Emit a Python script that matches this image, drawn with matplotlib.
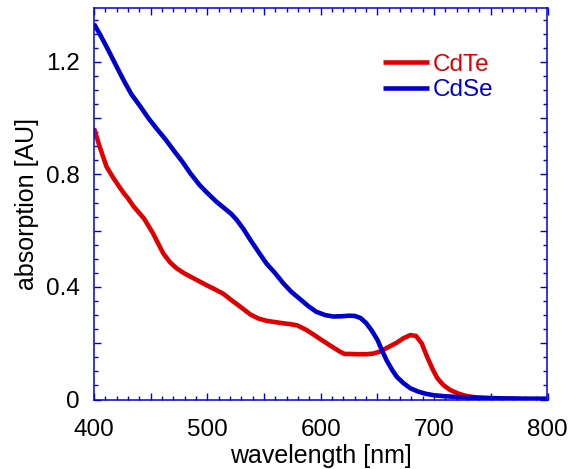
import matplotlib
matplotlib.use("Agg")
import matplotlib.pyplot as plt
from matplotlib.ticker import MultipleLocator, FuncFormatter

# ---- data ----
cdte_wl = [400, 405, 411, 417, 422, 426, 430, 435, 444, 452, 461, 467, 473, 479,
           485, 492, 499, 506, 514, 521, 529, 538, 545, 552, 560, 567, 573, 579,
           587, 594, 601, 611, 617, 621, 626, 632, 640, 646, 652, 659, 667, 673,
           679, 684, 689, 694, 699, 703, 708, 714, 722, 729, 738, 747, 760, 780, 800]
cdte_abs = [0.964, 0.899, 0.828, 0.788, 0.758, 0.735, 0.715, 0.686, 0.644, 0.591,
            0.520, 0.488, 0.466, 0.450, 0.437, 0.422, 0.407, 0.393, 0.376, 0.354,
            0.330, 0.302, 0.288, 0.280, 0.275, 0.271, 0.268, 0.264, 0.248, 0.230,
            0.211, 0.185, 0.170, 0.162, 0.162, 0.161, 0.161, 0.163, 0.170, 0.185,
            0.202, 0.218, 0.229, 0.226, 0.200, 0.150, 0.105, 0.075, 0.052, 0.034,
            0.020, 0.012, 0.007, 0.005, 0.003, 0.001, 0.0]

cdse_wl = [400, 405, 410, 414, 420, 426, 433, 441, 448, 455, 463, 470, 478, 485,
           493, 499, 508, 515, 521, 526, 532, 538, 545, 552, 560, 567, 574, 582,
           589, 596, 604, 611, 619, 625, 630, 635, 640, 645, 650, 654, 658, 663,
           667, 673, 679, 686, 693, 700, 708, 716, 725, 740, 760, 780, 800]
cdse_abs = [1.335, 1.300, 1.262, 1.231, 1.183, 1.136, 1.085, 1.041, 1.000, 0.964,
            0.925, 0.887, 0.845, 0.804, 0.763, 0.738, 0.703, 0.680, 0.660, 0.638,
            0.605, 0.567, 0.525, 0.484, 0.448, 0.413, 0.383, 0.356, 0.332, 0.312,
            0.300, 0.295, 0.296, 0.298, 0.297, 0.290, 0.272, 0.245, 0.212, 0.175,
            0.140, 0.105, 0.081, 0.058, 0.040, 0.028, 0.020, 0.015, 0.012, 0.010,
            0.008, 0.006, 0.004, 0.003, 0.003]

series_labels = ["CdTe", "CdSe"]
x_label = "wavelength [nm]"
y_label = "absorption [AU]"

RED = "#e00000"
BLUE = "#0000cc"
AXBLUE = "#0000dd"

plt.rcParams['font.family'] = ['Liberation Sans', 'DejaVu Sans']

fig = plt.figure(figsize=(5.71, 4.69), dpi=100)
ax = fig.add_axes([94 / 571, 69.5 / 469, 453.5 / 571, 391 / 469])

ax.plot(cdte_wl, cdte_abs, color=RED, lw=3.3, label=series_labels[0],
        solid_joinstyle='round', solid_capstyle='butt')
ax.plot(cdse_wl, cdse_abs, color=BLUE, lw=3.3, label=series_labels[1],
        solid_joinstyle='round', solid_capstyle='butt')

ax.set_xlim(400, 800)
ax.set_ylim(0, 1.39)

ax.xaxis.set_major_locator(MultipleLocator(50))
ax.xaxis.set_minor_locator(MultipleLocator(10))
ax.yaxis.set_major_locator(MultipleLocator(0.2))
ax.yaxis.set_minor_locator(MultipleLocator(0.05))

def xfmt(v, pos):
    return f"{int(round(v))}" if int(round(v)) % 100 == 0 else ""

def yfmt(v, pos):
    k = int(round(v / 0.2))
    if k % 2 != 0:
        return ""
    if k == 0:
        return "0"
    return f"{v:.1f}"

ax.xaxis.set_major_formatter(FuncFormatter(xfmt))
ax.yaxis.set_major_formatter(FuncFormatter(yfmt))

for sp in ax.spines.values():
    sp.set_color(AXBLUE)
    sp.set_linewidth(1.1)

ax.tick_params(which='both', direction='in', top=True, right=True,
               color=AXBLUE, width=1.0, labelsize=17.5, labelcolor='black')
ax.tick_params(which='major', length=5.2)
ax.tick_params(which='minor', length=3.2)
ax.tick_params(axis='x', which='major', pad=14)
ax.tick_params(axis='y', which='major', pad=10)

ax.set_xlabel(x_label, fontsize=18, labelpad=2.3)
ax.set_ylabel(y_label, fontsize=18, labelpad=5)

leg = ax.legend(loc='upper left', bbox_to_anchor=(0.637, 0.884), frameon=False,
                fontsize=17.5, handlelength=1.9, handletextpad=0.16,
                labelspacing=0.14, borderpad=0, borderaxespad=0,
                labelcolor='linecolor')

fig.savefig("out.png", dpi=100, facecolor='white')
